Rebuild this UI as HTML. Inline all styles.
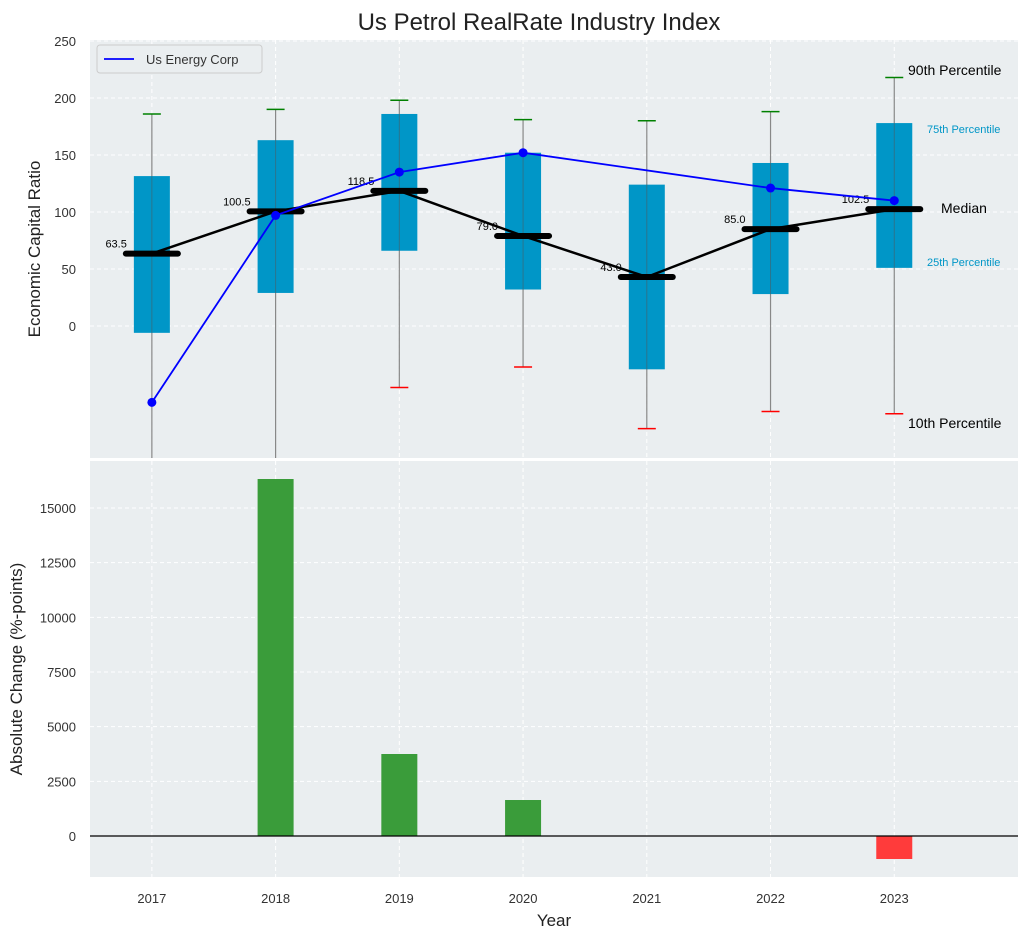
<!DOCTYPE html>
<html><head><meta charset="utf-8"><style>
body{margin:0;background:#fff;font-family:"Liberation Sans","DejaVu Sans",sans-serif}
svg text{font-family:"Liberation Sans","DejaVu Sans",sans-serif}
</style></head><body>
<svg id="c" width="1029" height="940" viewBox="0 0 1029 940" xmlns="http://www.w3.org/2000/svg"></svg>
<script>
const years=[2017,2018,2019,2020,2021,2022,2023];
const q1=[-6,29,66,32,-38,28,51];
const q3=[131.5,163,186,152,124,143,178];
const medians=[63.5,100.5,118.5,79,43,85,102.5];
const whiskTop=[186,190,198,181,180,188,218];
const whiskBot=[-140,-140,-54,-36,-90,-75,-77];
const companyVals=[-67,97,135,152,null,121,110];
const changes=[0,16326,3750,1646,0,0,-1052];
const topTicks=[0,50,100,150,200,250];
const botTicks=[0,2500,5000,7500,10000,12500,15000];

const svg=document.getElementById('c');
const NS='http://www.w3.org/2000/svg';
function el(tag,attrs,parent){const e=document.createElementNS(NS,tag);for(const k in attrs)e.setAttribute(k,attrs[k]);(parent||svg).appendChild(e);return e;}
const L=90,R=1018;
const x=v=>L+(v-2016.5)/(2024-2016.5)*(R-L);
const T0=40,T1=458,yTop=v=>326-v*1.14;
const B0=461,B1=877,yBot=v=>836-v*(328/15000);

// backgrounds
let bg=el('rect',{x:L,y:T0,width:R-L,height:T1-T0,fill:'#eaeef0'});

let bg2=el('rect',{x:L,y:B0,width:R-L,height:B1-B0,fill:'#eaeef0'});


// grids
years.forEach(yr=>{
 el('line',{x1:x(yr),x2:x(yr),y1:T0,y2:T1,stroke:'#fff','stroke-dasharray':'4,3'});
 el('line',{x1:x(yr),x2:x(yr),y1:B0,y2:B1,stroke:'#fff','stroke-dasharray':'4,3'});
 const t=el('text',{x:x(yr),y:903,'font-size':13,fill:'#333','text-anchor':'middle'});t.textContent=yr;
 
});
topTicks.forEach(v=>{
 el('line',{x1:L,x2:R,y1:yTop(v),y2:yTop(v),stroke:'#fff','stroke-dasharray':'4,3'});
 const t=el('text',{x:76,y:yTop(v)+5,'font-size':13,fill:'#333','text-anchor':'end'});t.textContent=v;
 
});
botTicks.forEach(v=>{
 el('line',{x1:L,x2:R,y1:yBot(v),y2:yBot(v),stroke:'#fff','stroke-dasharray':'4,3'});
 const t=el('text',{x:76,y:yBot(v)+5,'font-size':13,fill:'#333','text-anchor':'end'});t.textContent=v;
 
});

// clip for top
const defs=el('defs',{});
const cp=el('clipPath',{id:'ct'},defs);el('rect',{x:L,y:T0,width:R-L,height:T1-T0},cp);
const g=el('g',{'clip-path':'url(#ct)'});

// boxes
years.forEach((yr,i)=>{
 const cx=x(yr);
 el('line',{x1:cx,x2:cx,y1:yTop(whiskTop[i]),y2:yTop(whiskBot[i]),stroke:'#888','stroke-width':1.2},g);
 const b=el('rect',{x:cx-18,y:yTop(q3[i]),width:36,height:yTop(q1[i])-yTop(q3[i]),fill:'#0096c7'},g);
 
 el('line',{x1:cx,x2:cx,y1:yTop(q3[i]),y2:yTop(q1[i]),stroke:'#555','stroke-width':1,opacity:0.5},g);
 el('line',{x1:cx-9,x2:cx+9,y1:yTop(whiskTop[i]),y2:yTop(whiskTop[i]),stroke:'green','stroke-width':1.5},g);
 el('line',{x1:cx-9,x2:cx+9,y1:yTop(whiskBot[i]),y2:yTop(whiskBot[i]),stroke:'red','stroke-width':1.5},g);
});
// median line
let d='';years.forEach((yr,i)=>{d+=(i?'L':'M')+x(yr)+','+yTop(medians[i]);});
const ml=el('path',{d:d,stroke:'#000','stroke-width':2.5,fill:'none'},g);

years.forEach((yr,i)=>{
 const cx=x(yr);
 const m=el('line',{x1:cx-26,x2:cx+26,y1:yTop(medians[i]),y2:yTop(medians[i]),stroke:'#000','stroke-width':6,'stroke-linecap':'round'},g);
 
 const t=el('text',{x:cx-25,y:yTop(medians[i])-6,'font-size':11,fill:'#000','text-anchor':'end'},g);
 t.textContent=medians[i].toFixed(1);
 
});
// company line
let d2='';let first=true;
years.forEach((yr,i)=>{if(companyVals[i]===null)return;d2+=(first?'M':'L')+x(yr)+','+yTop(companyVals[i]);first=false;});
const cl=el('path',{d:d2,stroke:'#0000ff','stroke-width':1.8,fill:'none'},g);

years.forEach((yr,i)=>{if(companyVals[i]===null)return;
 const p=el('circle',{cx:x(yr),cy:yTop(companyVals[i]),r:4.5,fill:'#0000ff'},g);
 
});

// annotations
const ann=[[908,75,'90th Percentile',14,'#000','label-90th'],[927,133,'75th Percentile',11,'#0096c7','label-75th'],[941,213,'Median',14,'#000','label-median'],[927,266,'25th Percentile',11,'#0096c7','label-25th'],[908,428,'10th Percentile',14,'#000','label-10th']];
ann.forEach(a=>{const t=el('text',{x:a[0],y:a[1],'font-size':a[3],fill:a[4]});t.textContent=a[2];
 });

// legend
const lg=el('g',{});
el('rect',{x:97,y:45,width:165,height:28,fill:'#eaeef0',stroke:'#ccc',rx:3},lg);
el('line',{x1:104,x2:134,y1:59,y2:59,stroke:'#0000ff','stroke-width':1.8},lg);
const lt=el('text',{x:146,y:64,'font-size':13,fill:'#333'},lg);lt.textContent='Us Energy Corp';

// bars
years.forEach((yr,i)=>{const v=changes[i];if(!v)return;
 const y0=yBot(0),y1=yBot(v);
 const b=el('rect',{x:x(yr)-18,y:Math.min(y0,y1),width:36,height:Math.abs(y1-y0),fill:v>0?'#3a9c3a':'#ff3b3b'});
 
});
el('line',{x1:L,x2:R,y1:yBot(0),y2:yBot(0),stroke:'#000','stroke-width':1.2});

// titles
const tt=el('text',{x:539,y:30,'font-size':24,fill:'#222','text-anchor':'middle'});tt.textContent='Us Petrol RealRate Industry Index';

const yt=el('text',{x:0,y:0,'font-size':17,fill:'#222','text-anchor':'middle',transform:'translate(40,249) rotate(-90)'});yt.textContent='Economic Capital Ratio';

const yb=el('text',{x:0,y:0,'font-size':17,fill:'#222','text-anchor':'middle',transform:'translate(22,669) rotate(-90)'});yb.textContent='Absolute Change (%-points)';

const xt=el('text',{x:554,y:926,'font-size':17,fill:'#222','text-anchor':'middle'});xt.textContent='Year';

</script>
</body></html>
